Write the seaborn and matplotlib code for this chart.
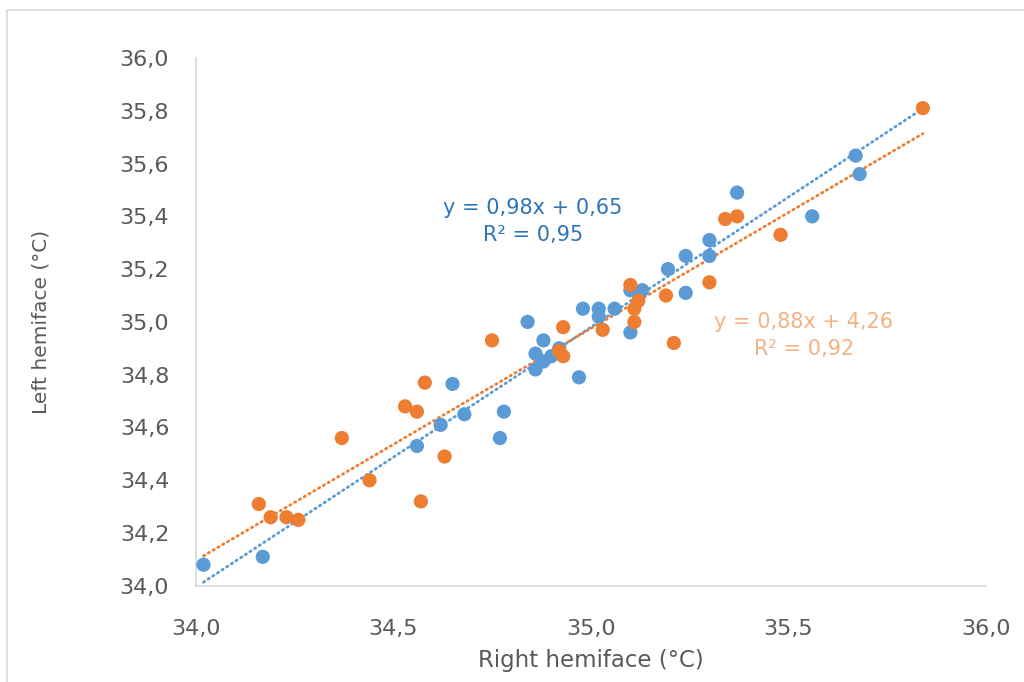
import matplotlib.pyplot as plt
import matplotlib.patches as mpatches
import numpy as np
import pandas as pd
import seaborn as sns

# ── Dados ──────────────────────────────────────────────────────
azul_x = [34.02, 34.17, 34.56, 34.62, 34.65, 34.68, 34.77, 34.78, 34.84, 34.86,
          34.86, 34.88, 34.88, 34.90, 34.92, 34.97, 34.98, 35.02, 35.02, 35.06,
          35.10, 35.10, 35.13, 35.195, 35.24, 35.24, 35.30, 35.30, 35.37, 35.56,
          35.67, 35.68]
azul_y = [34.08, 34.11, 34.53, 34.61, 34.765, 34.65, 34.56, 34.66, 35.00, 34.88,
          34.82, 34.93, 34.85, 34.87, 34.90, 34.79, 35.05, 35.05, 35.02, 35.05,
          34.96, 35.12, 35.12, 35.20, 35.25, 35.11, 35.31, 35.25, 35.49, 35.40,
          35.63, 35.56]

laranja_x = [34.16, 34.19, 34.23, 34.26, 34.37, 34.44, 34.53, 34.56, 34.58, 34.57,
             34.63, 34.75, 34.93, 34.93, 34.92, 35.03, 35.10, 35.11, 35.11, 35.12,
             35.19, 35.21, 35.30, 35.34, 35.37, 35.48, 35.84]
laranja_y = [34.31, 34.26, 34.26, 34.25, 34.56, 34.40, 34.68, 34.66, 34.77, 34.32,
             34.49, 34.93, 34.98, 34.87, 34.89, 34.97, 35.14, 35.00, 35.05, 35.08,
             35.10, 34.92, 35.15, 35.39, 35.40, 35.33, 35.81]

# linhas de tendência (coeficientes ajustados ao traçado) e faixa em x
tend_azul = (0.986, 0.47)
tend_laranja = (0.879, 4.21)
faixa_tend = [34.02, 35.84]

rotulo_azul = "y = 0,98x + 0,65\nR² = 0,95"
rotulo_laranja = "y = 0,88x + 4,26\nR² = 0,92"

x_ticks = [34.0, 34.5, 35.0, 35.5, 36.0]
y_ticks = [34.0, 34.2, 34.4, 34.6, 34.8, 35.0, 35.2, 35.4, 35.6, 35.8, 36.0]

AZUL = "#5B9BD5"
LARANJA = "#ED7D31"
CINZA = "#595959"

sns.set_theme(style="white")
plt.rcParams["font.family"] = ["DejaVu Sans"]

df = pd.concat([
    pd.DataFrame({"x": azul_x, "y": azul_y, "serie": "azul"}),
    pd.DataFrame({"x": laranja_x, "y": laranja_y, "serie": "laranja"}),
])

fig = plt.figure(figsize=(10.24, 6.82), dpi=100)
ax = fig.add_axes([0.191, 0.141, 0.772, 0.774])

# moldura externa do gráfico
fig.patches.append(mpatches.Rectangle((7 / 1024, -0.05), 1.1, 1 - 10 / 682 + 0.05,
                                      transform=fig.transFigure, fill=False,
                                      edgecolor="#d9d9d9", linewidth=1.2))

sns.scatterplot(data=df, x="x", y="y", hue="serie",
                palette={"azul": AZUL, "laranja": LARANJA},
                s=105, linewidth=0, legend=False, ax=ax, zorder=3)

xs = np.array(faixa_tend)
for (a, b), cor in [(tend_azul, AZUL), (tend_laranja, LARANJA)]:
    ax.plot(xs, a * xs + b, color=cor, linewidth=2.0,
            linestyle=(0, (0.5, 1.5)), dash_capstyle="round", zorder=2)

ax.text(34.853, 35.38, rotulo_azul, color="#2E75B6", fontsize=15,
        ha="center", va="center", multialignment="center", linespacing=1.45)
ax.text(35.539, 34.95, rotulo_laranja, color="#F4B183", fontsize=15,
        ha="center", va="center", multialignment="center", linespacing=1.45)

ax.set_xlim(34.0, 36.0)
ax.set_ylim(34.0, 36.0)
ax.set_xticks(x_ticks)
ax.set_yticks(y_ticks)
ax.set_xticklabels([f"{v:.1f}".replace(".", ",") for v in x_ticks])
ax.set_yticklabels([f"{v:.1f}".replace(".", ",") for v in y_ticks])
ax.tick_params(axis="both", length=0, labelsize=16, colors=CINZA)
ax.tick_params(axis="x", pad=24)
ax.tick_params(axis="y", pad=19)

ax.set_xlabel("Right hemiface (°C)", fontsize=16.5, color=CINZA, labelpad=7)
ax.set_ylabel("Left hemiface (°C)", fontsize=14.5, color=CINZA, labelpad=50)

for lado in ["top", "right"]:
    ax.spines[lado].set_visible(False)
for lado in ["left", "bottom"]:
    ax.spines[lado].set_color("#d9d9d9")
    ax.spines[lado].set_linewidth(1.2)

fig.savefig("out.png", dpi=100)
plt.close(fig)
